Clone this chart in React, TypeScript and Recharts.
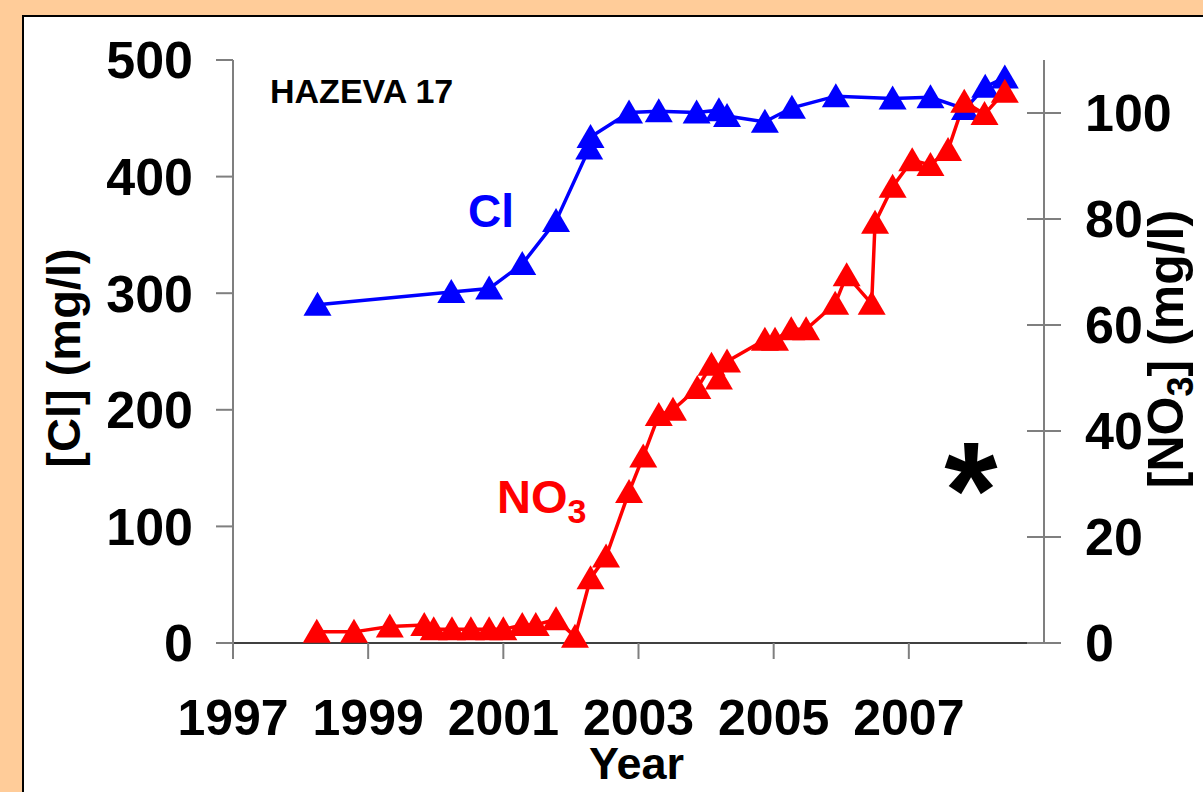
import React from 'react';
import { LineChart, Line, XAxis, YAxis } from 'recharts';

// ---- Data ----
const clYears = [1998.25, 2000.23, 2000.79, 2001.28, 2001.78, 2002.27, 2002.29, 2002.86, 2003.3, 2003.86, 2004.19, 2004.31, 2004.87, 2005.27, 2005.92, 2006.76, 2007.32, 2007.83, 2008.13, 2008.42];
const clValues = [290, 301, 304, 325, 362, 424, 434, 455, 456, 455, 457, 452, 447, 459, 469, 467, 468, 458, 477, 485];

const no3Years = [1998.24, 1998.79, 1999.32, 1999.83, 1999.97, 2000.24, 2000.52, 2000.79, 2001.0, 2001.28, 2001.48, 2001.78, 2002.06, 2002.29, 2002.52, 2002.86, 2003.07, 2003.3, 2003.51, 2003.87, 2004.08, 2004.19, 2004.31, 2004.87, 2005.02, 2005.26, 2005.48, 2005.91, 2006.08, 2006.45, 2006.5, 2006.76, 2007.05, 2007.32, 2007.58, 2007.82, 2008.12, 2008.42];
const no3Values = [2.1, 2.1, 3.1, 3.4, 2.6, 2.6, 2.6, 2.6, 2.6, 3.4, 3.4, 4.5, 1.2, 12.2, 16.3, 28.5, 35.2, 43.0, 44.0, 48.1, 52.5, 49.9, 53.1, 57.2, 57.2, 59.2, 59.2, 64.0, 69.4, 64.0, 79.3, 86.1, 91.1, 90.2, 93.0, 102.1, 99.8, 104.0];

const yearTicks = [1997, 1999, 2001, 2003, 2005, 2007];
const clTicks = [0, 100, 200, 300, 400, 500];
const no3Ticks = [0, 20, 40, 60, 80, 100];

const clData = clYears.map((year, i) => ({ year, v: clValues[i] }));
const no3Data = no3Years.map((year, i) => ({ year, v: no3Values[i] }));

const FONT = '"Liberation Sans", Arial, Helvetica, sans-serif';
const BLUE = '#0000FF';
const RED = '#FF0000';
const AXIS_GRAY = '#7f7f7f';

const TS = 17; // tick size
const TM = 24; // tick margin (right axis)

const makeTri = (color: string) => (p: any) => {
  const { cx, cy, index } = p;
  if (cx == null || cy == null) return <g key={`t-${index}`} />;
  const w = 14;
  const hTop = 13;
  const hBot = 11;
  return (
    <polygon
      key={`t-${color}-${index}`}
      points={`${cx},${cy - hTop} ${cx - w},${cy + hBot} ${cx + w},${cy + hBot}`}
      fill={color}
      stroke="none"
    />
  );
};

const RightTick = (p: any) => {
  const { x, y, payload } = p;
  const axisX = x - TS - TM;
  return (
    <g>
      <line x1={axisX - TS} x2={axisX} y1={y} y2={y} stroke={AXIS_GRAY} strokeWidth={2} />
      <text x={x} y={y} dy="0.355em" textAnchor="start" fill="#000" fontSize={52} fontWeight="bold" fontFamily={FONT}>
        {payload.value}
      </text>
    </g>
  );
};

const LeftTitle = (p: any) => {
  const vb = p.viewBox || {};
  const x = vb.x + 80;
  const y = vb.y + 298;
  return (
    <text x={x} y={y} transform={`rotate(-90, ${x}, ${y})`} textAnchor="middle" fontSize={47} fontWeight="bold" fontFamily={FONT} fill="#000">
      [Cl] (mg/l)
    </text>
  );
};

const RightTitle = (p: any) => {
  const vb = p.viewBox || {};
  const x = vb.x + 139;
  const y = vb.y + 289;
  return (
    <text x={x} y={y} transform={`rotate(-90, ${x}, ${y})`} textAnchor="middle" fontSize={50} fontWeight="bold" fontFamily={FONT} fill="#000">
      [NO
      <tspan fontSize={36} dy={10}>3</tspan>
      <tspan dy={-10}>] (mg/l)</tspan>
    </text>
  );
};

const YearTitle = (p: any) => {
  const vb = p.viewBox || {};
  const x = vb.x + vb.width / 2 - 2;
  const y = vb.y + 136;
  return (
    <text x={x} y={y} textAnchor="middle" fontSize={45} fontWeight="bold" fontFamily={FONT} fill="#000">
      Year
    </text>
  );
};

export default function App() {
  return (
    <div style={{ position: 'absolute', left: 0, top: 0, width: 1203, height: 792, background: '#FFCC99', overflow: 'hidden' }}>
      <div
        style={{
          position: 'absolute',
          left: 22,
          top: 15,
          width: 1220,
          height: 820,
          background: '#fff',
          border: '2px solid #000',
          boxSizing: 'border-box',
        }}
      />
      <div style={{ position: 'absolute', left: 0, top: 0 }}>
        <LineChart width={1203} height={792} margin={{ top: 60, right: 0, bottom: 0, left: 0 }}>
          <XAxis
            type="number"
            dataKey="year"
            domain={[1997, 2009]}
            ticks={yearTicks}
            allowDataOverflow
            height={149}
            tickSize={16}
            tickMargin={40}
            axisLine={{ stroke: '#404040', strokeWidth: 2 }}
            tickLine={{ stroke: AXIS_GRAY, strokeWidth: 2 }}
            tick={{ fill: '#000', fontSize: 50, fontWeight: 'bold', fontFamily: FONT }}
            interval={0}
            label={<YearTitle />}
          />
          <YAxis
            yAxisId="left"
            orientation="left"
            domain={[0, 500]}
            ticks={clTicks}
            width={233}
            tickSize={TS}
            tickMargin={23}
            axisLine={{ stroke: AXIS_GRAY, strokeWidth: 2 }}
            tickLine={{ stroke: AXIS_GRAY, strokeWidth: 2 }}
            tick={{ fill: '#000', fontSize: 52, fontWeight: 'bold', fontFamily: FONT }}
            interval={0}
            label={<LeftTitle />}
          />
          <YAxis
            yAxisId="right"
            orientation="right"
            domain={[0, 110]}
            ticks={no3Ticks}
            width={159}
            tickSize={TS}
            tickMargin={TM}
            axisLine={{ stroke: AXIS_GRAY, strokeWidth: 2 }}
            tickLine={{ stroke: AXIS_GRAY, strokeWidth: 2 }}
            tick={<RightTick />}
            interval={0}
            label={<RightTitle />}
          />
          <Line
            yAxisId="left"
            data={clData}
            dataKey="v"
            stroke={BLUE}
            strokeWidth={3.5}
            dot={makeTri(BLUE)}
            activeDot={false}
            isAnimationActive={false}
          />
          <Line
            yAxisId="right"
            data={no3Data}
            dataKey="v"
            stroke={RED}
            strokeWidth={3.5}
            dot={makeTri(RED)}
            activeDot={false}
            isAnimationActive={false}
          />
        </LineChart>
      </div>
      <svg width={1203} height={792} style={{ position: 'absolute', left: 0, top: 0, pointerEvents: 'none' }}>
        <text x={270} y={103} fontSize={34} fontWeight="bold" fontFamily={FONT} fill="#000">HAZEVA 17</text>
        <text x={468} y={227} fontSize={46} fontWeight="bold" fontFamily={FONT} fill={BLUE}>Cl</text>
        <text x={497} y={513} fontSize={47} fontWeight="bold" fontFamily={FONT} fill={RED}>
          NO<tspan fontSize={34} dy={10}>3</tspan>
        </text>
        <text x={971} y={538} textAnchor="middle" fontSize={137} fontWeight="bold" fontFamily={FONT} fill="#000">*</text>
      </svg>
    </div>
  );
}
